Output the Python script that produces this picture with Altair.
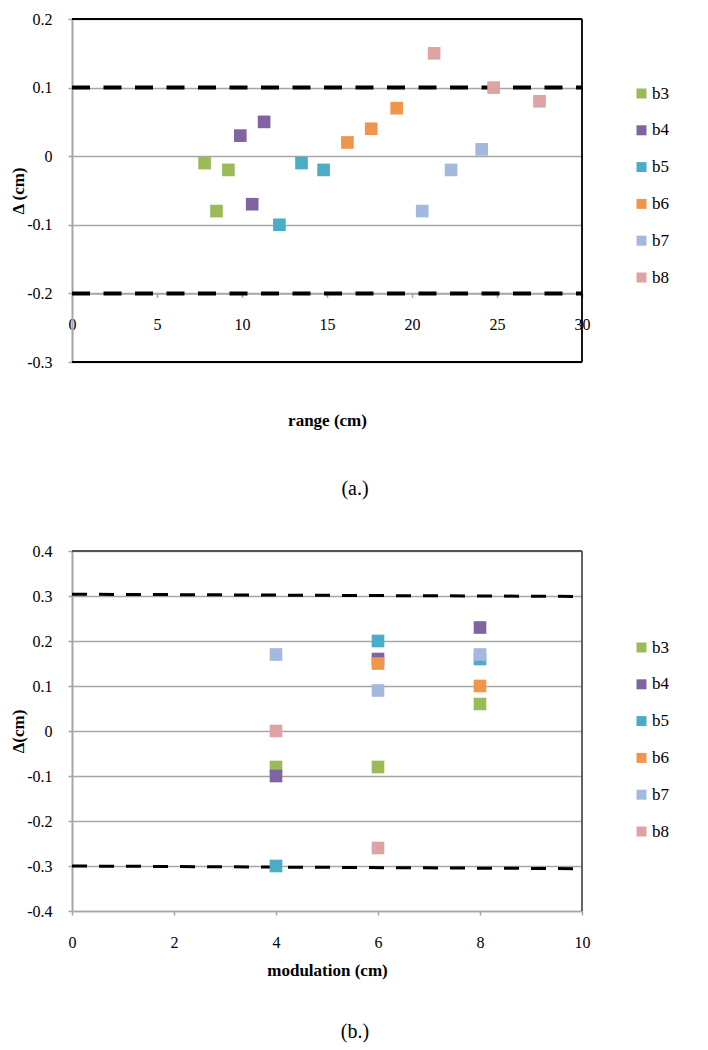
import altair as alt
import pandas as pd

FONT = "'Liberation Serif', 'Times New Roman', 'DejaVu Serif', serif"

series = ["b3", "b4", "b5", "b6", "b7", "b8"]
colors = ["#9BBB59", "#8064A2", "#4BACC6", "#F0964C", "#A3B9DD", "#DEA3A3"]

# ---- (a.) range vs delta ----
a_b3_range = [7.8, 8.5, 9.2]
a_b3_delta = [-0.01, -0.08, -0.02]
a_b4_range = [9.9, 10.6, 11.3]
a_b4_delta = [0.03, -0.07, 0.05]
a_b5_range = [12.2, 13.5, 14.8]
a_b5_delta = [-0.10, -0.01, -0.02]
a_b6_range = [16.2, 17.6, 19.1]
a_b6_delta = [0.02, 0.04, 0.07]
a_b7_range = [20.6, 22.3, 24.1]
a_b7_delta = [-0.08, -0.02, 0.01]
a_b8_range = [21.3, 24.8, 27.5]
a_b8_delta = [0.15, 0.10, 0.08]

a_limits = [0.1, -0.2]
a_limit_x = [0, 30]
a_yticks = [-0.3, -0.2, -0.1, 0, 0.1, 0.2]
a_xticks = [0, 5, 10, 15, 20, 25, 30]

# ---- (b.) modulation vs delta ----
b_b3_mod = [4, 6, 8]
b_b3_delta = [-0.08, -0.08, 0.06]
b_b4_mod = [4, 6, 8]
b_b4_delta = [-0.10, 0.16, 0.23]
b_b5_mod = [4, 6, 8]
b_b5_delta = [-0.30, 0.20, 0.16]
b_b6_mod = [6, 8]
b_b6_delta = [0.15, 0.10]
b_b7_mod = [4, 6, 8]
b_b7_delta = [0.17, 0.09, 0.17]
b_b8_mod = [4, 6]
b_b8_delta = [0.0, -0.26]

b_upper_x = [0, 10]
b_upper_y = [0.304, 0.299]
b_lower_x = [0, 10]
b_lower_y = [-0.300, -0.306]
b_yticks = [-0.4, -0.3, -0.2, -0.1, 0, 0.1, 0.2, 0.3, 0.4]
b_xticks = [0, 2, 4, 6, 8, 10]


def points_frame(pairs):
    rows = []
    for name, (xs, ys) in zip(series, pairs):
        for x, y in zip(xs, ys):
            rows.append({"x": x, "y": y, "s": name})
    return pd.DataFrame(rows)


a_df = points_frame([
    (a_b3_range, a_b3_delta), (a_b4_range, a_b4_delta), (a_b5_range, a_b5_delta),
    (a_b6_range, a_b6_delta), (a_b7_range, a_b7_delta), (a_b8_range, a_b8_delta),
])
b_df = points_frame([
    (b_b3_mod, b_b3_delta), (b_b4_mod, b_b4_delta), (b_b5_mod, b_b5_delta),
    (b_b6_mod, b_b6_delta), (b_b7_mod, b_b7_delta), (b_b8_mod, b_b8_delta),
])

a_lim_rows = []
for i, v in enumerate(a_limits):
    for x in a_limit_x:
        a_lim_rows.append({"x": x, "y": v, "g": i})
a_lim_df = pd.DataFrame(a_lim_rows)

b_lim_rows = []
for x, y in zip(b_upper_x, b_upper_y):
    b_lim_rows.append({"x": x, "y": y, "g": 0})
for x, y in zip(b_lower_x, b_lower_y):
    b_lim_rows.append({"x": x, "y": y, "g": 1})
b_lim_df = pd.DataFrame(b_lim_rows)

GRID = "#A6A6A6"
label_expr = "'' + datum.value"

one = alt.Data(values=[{"k": 1}])


def panel(df, lim_df, xdom, xticks, ydom, yticks, xtitle, ytitle, w, h,
          x_offset, x_tick_pad, x_title_pad, legend_y, dash, dash_w,
          frame_color, frame_bottom, caption, cap_offset):
    xs = alt.Scale(domain=xdom, nice=False, zero=False)
    ys = alt.Scale(domain=ydom, nice=False, zero=False)
    xaxis = alt.Axis(values=xticks, grid=False, offset=x_offset, domainColor=GRID,
                     domainWidth=1.5, tickColor=GRID, tickSize=4, tickWidth=1.5,
                     labelPadding=x_tick_pad, labelFont=FONT, labelFontSize=16,
                     labelColor="#000", labelExpr=label_expr, title=xtitle,
                     titleFont=FONT, titleFontSize=17, titleFontWeight="bold",
                     titleColor="#000", titlePadding=x_title_pad, labelFlush=False)
    yaxis = alt.Axis(values=yticks, grid=True, gridColor=GRID, gridWidth=1.5,
                     domainColor=GRID, domainWidth=2, tickColor=GRID, tickSize=4,
                     tickWidth=1.5, labelPadding=16, labelFont=FONT, labelFontSize=16,
                     labelColor="#000", labelExpr=label_expr, title=ytitle,
                     titleFont=FONT, titleFontSize=17, titleFontWeight="bold",
                     titleColor="#000", titleX=-45, titleY=h / 2)

    pts = alt.Chart(df).mark_square(size=160, opacity=1).encode(
        x=alt.X("x:Q", scale=xs, axis=xaxis),
        y=alt.Y("y:Q", scale=ys, axis=yaxis),
        color=alt.Color("s:N", scale=alt.Scale(domain=series, range=colors),
                        legend=alt.Legend(orient="none", legendX=w + 51, legendY=legend_y,
                                          title=None, symbolType="square", symbolSize=100,
                                          symbolStrokeWidth=0, symbolOpacity=1,
                                          labelFont=FONT, labelFontSize=17,
                                          labelColor="#000", rowPadding=18.8,
                                          labelOffset=2, padding=0)),
        order=alt.Order("s:N"),
    )

    lines = alt.Chart(lim_df).mark_line(color="#000", strokeWidth=dash_w,
                                        strokeDash=dash).encode(
        x=alt.X("x:Q", scale=xs),
        y=alt.Y("y:Q", scale=ys),
        detail="g:N",
    )

    top = alt.Chart(one).mark_rule(color=frame_color, strokeWidth=1.8).encode(
        x=alt.value(0), x2=alt.value(w), y=alt.value(0))
    right = alt.Chart(one).mark_rule(color=frame_color, strokeWidth=1.8).encode(
        x=alt.value(w), y=alt.value(0), y2=alt.value(h))
    layers = [lines, pts, top, right]
    if frame_bottom:
        bottom = alt.Chart(one).mark_rule(color=frame_color, strokeWidth=1.8).encode(
            x=alt.value(0), x2=alt.value(w), y=alt.value(h))
        layers.append(bottom)

    return alt.layer(*layers).properties(
        width=w, height=h,
        title=alt.TitleParams(caption, orient="bottom", anchor="middle", frame="group",
                              font=FONT, fontSize=20, fontWeight="normal", color="#000",
                              offset=cap_offset, dx=28),
    )


chart_a = panel(a_df, a_lim_df, [0, 30], a_xticks, [-0.3, 0.2], a_yticks,
                "range (cm)", "\u0394 (cm)", 510, 343, -68.6, 19, 80, 66,
                [18, 13.5], 4, "#000", True, "(a.)", 51)
chart_b = panel(b_df, b_lim_df, [0, 10], b_xticks, [-0.4, 0.4], b_yticks,
                "modulation (cm)", "\u0394(cm)", 510, 360, 0, 19, 12, 88,
                [15, 12], 3, "#555555", False, "(b.)", 44)

chart = alt.vconcat(chart_a, chart_b, spacing=42).resolve_scale(
    color="independent").resolve_legend(color="independent").properties(
    padding={"left": 0, "top": 2, "right": 0, "bottom": 0}
).configure_view(stroke=None).configure(background="white")

chart.save("out.html", embed_options={"renderer": "svg", "actions": False})
